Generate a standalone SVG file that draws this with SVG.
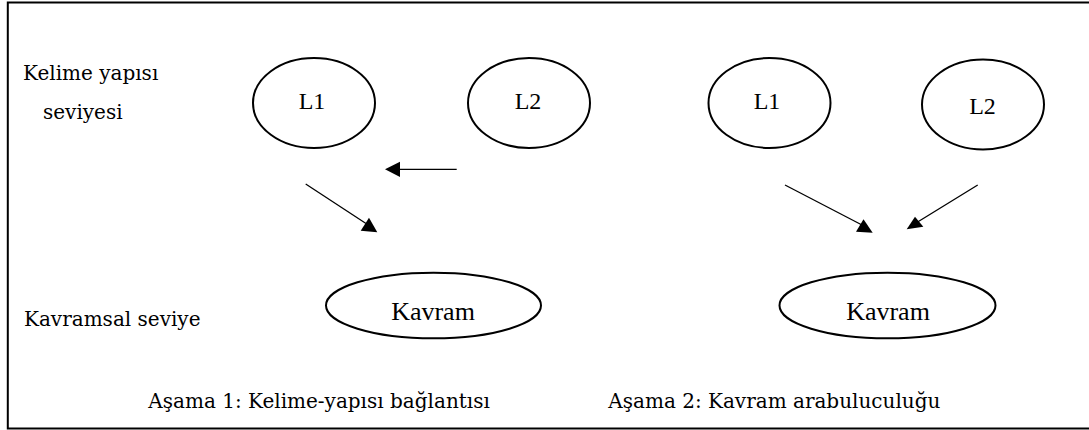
<svg xmlns="http://www.w3.org/2000/svg" width="1089" height="430" viewBox="0 0 1089 430">
  <style>
    .frame { fill: none; stroke: #000; stroke-width: 2; }
    .node ellipse { fill: #fff; stroke: #000; stroke-width: 2; }
    .node text { font-family: "Liberation Serif", "Times New Roman", serif; fill: #000; text-anchor: middle; }
    .lbl { font-family: "DejaVu Serif", "Liberation Serif", serif; font-size: 20px; fill: #000; }
    .edge line { stroke: #000; stroke-width: 1.3; }
    .edge polygon { fill: #000; stroke: none; }
  </style>

  <!-- outer frame (right edge runs off the page) -->
  <rect class="frame" x="7.8" y="2.5" width="1090" height="426"/>

  <!-- level labels -->
  <g id="level-labels">
    <text class="lbl" x="23" y="80">Kelime yapısı</text>
    <text class="lbl" x="43" y="119">seviyesi</text>
    <text class="lbl" x="24" y="326">Kavramsal seviye</text>
  </g>

  <!-- stage 1 -->
  <g id="s1-L1" class="node">
    <ellipse cx="314" cy="103" rx="61" ry="45"/>
    <text x="312" y="109" font-size="24">L1</text>
  </g>
  <g id="s1-L2" class="node">
    <ellipse cx="529" cy="103" rx="61" ry="45"/>
    <text x="528" y="109" font-size="24">L2</text>
  </g>
  <g id="s1-kavram" class="node">
    <ellipse cx="433.5" cy="305.5" rx="107.5" ry="32.8"/>
    <text x="433" y="319.5" font-size="26">Kavram</text>
  </g>

  <!-- stage 2 -->
  <g id="s2-L1" class="node">
    <ellipse cx="769.5" cy="103" rx="61" ry="45"/>
    <text x="767" y="108.5" font-size="24">L1</text>
  </g>
  <g id="s2-L2" class="node">
    <ellipse cx="983" cy="104.5" rx="61" ry="45"/>
    <text x="982.5" y="113.5" font-size="24">L2</text>
  </g>
  <g id="s2-kavram" class="node">
    <ellipse cx="887.5" cy="305.5" rx="108" ry="32.8"/>
    <text x="888" y="319.5" font-size="26">Kavram</text>
  </g>

  <!-- connectors -->
  <g id="connectors" class="edge">
    <!-- L2 to L1 (stage 1) -->
    <line x1="456.7" y1="169.3" x2="399" y2="169.3"/>
    <polygon points="385,169.3 400,161.7 400,177"/>
    <!-- L1 down to concept (stage 1) -->
    <line x1="305.7" y1="184" x2="366" y2="223.5"/>
    <polygon points="369,217.7 377.3,232.3 360.7,230.7"/>
    <!-- L1 down to concept (stage 2) -->
    <line x1="785" y1="185" x2="862" y2="225"/>
    <polygon points="863.5,219.3 872.7,232.7 856,231.7"/>
    <!-- L2 down to concept (stage 2) -->
    <line x1="977.7" y1="185" x2="918" y2="221.7"/>
    <polygon points="915,216.7 923.3,226.7 906.7,229.3"/>
  </g>

  <!-- stage captions -->
  <g id="captions">
    <text class="lbl" x="148.3" y="407.7">Aşama 1: Kelime-yapısı bağlantısı</text>
    <text class="lbl" x="608.3" y="407.7">Aşama 2: Kavram arabuluculuğu</text>
  </g>
</svg>
